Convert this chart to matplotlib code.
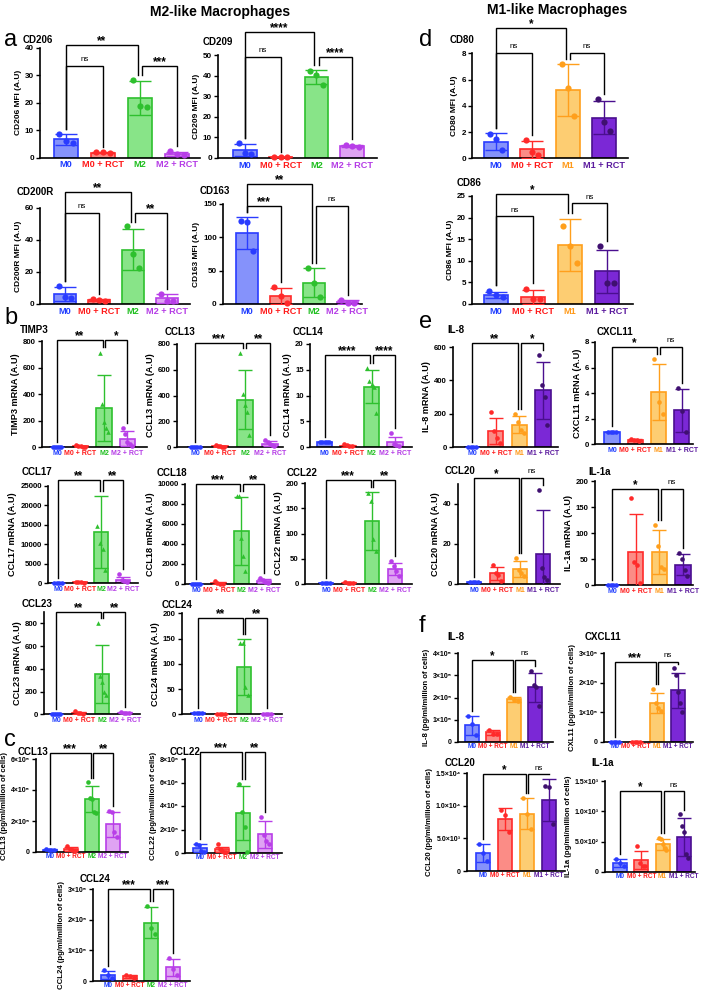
import numpy as np
import matplotlib.pyplot as plt

W, H = 703, 992
plt.rcParams['font.family'] = ['Liberation Sans', 'DejaVu Sans']
plt.rcParams['font.weight'] = 'bold'
plt.rcParams['axes.labelweight'] = 'bold'

fig = plt.figure(figsize=(W / 100, H / 100), dpi=100)

# groups and colours
M2G = ["M0", "M0 + RCT", "M2", "M2 + RCT"]
M1G = ["M0", "M0 + RCT", "M1", "M1 + RCT"]
EDGE = {'M0': '#2a3cff', 'M0 + RCT': '#ff2a2a', 'M2': '#2ec02e',
        'M2 + RCT': '#b83ee8', 'M1': '#ff9f1c', 'M1 + RCT': '#4a0f8f'}
FACE = {'M0': '#8592fb', 'M0 + RCT': '#fb8c86', 'M2': '#88e488',
        'M2 + RCT': '#dfa3f3', 'M1': '#fdcd72', 'M1 + RCT': '#7b28d6'}
LABC = {'M0': '#1f3dff', 'M0 + RCT': '#ff1a1a', 'M2': '#1fbf1f',
        'M2 + RCT': '#b53ce6', 'M1': '#ff9a1a', 'M1 + RCT': '#5b1a9e'}

# ---- a: M2 surface markers (MFI)
cd206_mean = [6.7, 1.8, 21.9, 1.5]
cd206_sd = [1.9, 0.2, 6.2, 0.7]
cd206_pts = [[8.6, 6.2, 5.3], [2.0, 1.9, 1.6], [28.3, 19.0, 18.4], [2.3, 1.2, 1.0]]

cd209_mean = [3.8, 0.4, 39.3, 6.0]
cd209_sd = [2.9, 0.1, 3.4, 0.5]
cd209_pts = [[7.2, 2.4, 1.8], [0.5, 0.4, 0.3], [42.0, 40.5, 35.5], [6.5, 6.0, 5.5]]

cd200r_mean = [6.4, 2.5, 34.0, 3.5]
cd200r_sd = [4.5, 0.5, 13.0, 2.7]
cd200r_pts = [[11.2, 4.5, 3.5], [3.0, 2.5, 2.0], [48.5, 31.0, 22.5], [6.5, 2.0, 2.0]]

cd163_mean = [107, 12.7, 31.8, 3.0]
cd163_sd = [24, 12, 21.8, 2.6]
cd163_pts = [[124, 123, 79], [25, 12, 1], [54, 31, 10.5], [6, 2, 1]]

# ---- b: M2 genes (mRNA)
timp3_mean = [1, 6, 296, 63]
timp3_sd = [0, 4, 248, 57]
timp3_pts = [[1, 1, 1, 1, 1], [12, 8, 5, 3, 2], [712, 325, 190, 143, 110], [140, 100, 40, 20, 10]]

ccl13_mean = [1, 6, 368, 27]
ccl13_sd = [0, 5, 232, 18]
ccl13_pts = [[1, 1, 1, 1, 1], [14, 8, 4, 2, 1], [730, 415, 330, 270, 95], [55, 35, 20, 15, 10]]

ccl14_mean = [1.0, 0.25, 11.7, 0.9]
ccl14_sd = [0, 0.2, 3.2, 1.0]
ccl14_pts = [[1, 1, 1, 1, 1], [0.5, 0.3, 0.2, 0.1], [15.4, 12.8, 12.3, 11.7, 6.6], [2.7, 0.6, 0.3, 0.1]]

ccl17_mean = [50, 180, 13200, 700]
ccl17_sd = [0, 90, 9300, 900]
ccl17_pts = [[50, 50, 50, 50], [300, 200, 150, 100], [14800, 10400, 8800, 3300], [2300, 800, 400, 200]]

ccl18_mean = [10, 120, 5300, 320]
ccl18_sd = [0, 120, 3400, 220]
ccl18_pts = [[10, 10, 10, 10, 10], [300, 150, 50, 20], [8800, 8800, 4600, 2800, 1300], [650, 450, 250, 100]]

ccl22_mean = [2, 2, 125, 30]
ccl22_sd = [0, 1, 58, 12]
ccl22_pts = [[2, 2, 2, 2], [3, 2, 2, 1], [180, 165, 90, 65], [45, 35, 25, 15]]

ccl23_mean = [5, 14, 358, 13]
ccl23_sd = [0, 8, 255, 5]
ccl23_pts = [[5, 5, 5, 5, 5], [25, 15, 10, 5], [800, 340, 280, 200, 170], [20, 15, 10, 8]]

ccl24_mean = [2, 1, 94, 1]
ccl24_sd = [0.5, 0.5, 56, 0.5]
ccl24_pts = [[3, 2, 2, 2], [1, 1, 1, 1], [142, 142, 55, 38], [1, 1, 1, 1]]

# ---- c: M2 secreted (pg/ml/million of cells)
ccl13p_mean = [1.5e4, 2.0e4, 3.4e5, 1.8e5]
ccl13p_sd = [5e3, 1.5e4, 8.5e4, 8e4]
ccl13p_pts = [[2e4, 1.5e4, 1.5e4, 1e4], [4e4, 2e4, 1e4, 5e3], [4.5e5, 3.5e5, 3.4e5, 2.6e5, 2.5e5],
              [2.65e5, 2.55e5, 1.3e5, 1.0e5]]

ccl22p_mean = [4.5e5, 3.0e5, 3.4e6, 1.6e6]
ccl22p_sd = [3.5e5, 2.5e5, 2.3e6, 1.15e6]
ccl22p_pts = [[8e5, 7e5, 2e5, 1e5], [7.5e5, 3e5, 2e5, 1e5, 1e5], [5.9e6, 3.5e6, 2.2e6, 1e5],
              [3.05e6, 1.5e6, 1.0e6, 0.8e6]]

ccl24p_mean = [2.0e4, 1.5e4, 1.9e5, 4.5e4]
ccl24p_sd = [1.2e4, 5e3, 5e4, 2.8e4]
ccl24p_pts = [[3.5e4, 2e4, 1e4], [2e4, 1.5e4, 1e4], [2.45e5, 1.72e5, 1.54e5], [7.5e4, 4e4, 2e4]]

# ---- d: M1 surface markers (MFI)
cd80_mean = [1.25, 0.7, 5.2, 3.1]
cd80_sd = [0.65, 0.65, 2.0, 1.25]
cd80_pts = [[1.85, 1.5, 0.6], [1.4, 0.5, 0.25], [7.2, 5.35, 3.2], [4.5, 2.8, 2.1]]

cd86_mean = [2.1, 1.7, 13.7, 7.6]
cd86_sd = [0.7, 1.6, 6.0, 5.0]
cd86_pts = [[3.1, 2.1, 1.7], [3.5, 1.1, 1.1], [18.1, 13.5, 9.4], [13.4, 4.9, 4.9]]

# ---- e: M1 genes (mRNA)
il8_mean = [0, 96, 135, 341]
il8_sd = [0, 80, 50, 170]
il8_pts = [[0, 0, 0, 0], [210, 95, 55, 25], [200, 150, 105, 85], [555, 375, 300, 135]]

cxcl11_mean = [1.0, 0.35, 4.1, 2.65]
cxcl11_sd = [0, 0.1, 2.2, 1.7]
cxcl11_pts = [[1, 1, 1, 1], [0.45, 0.35, 0.3, 0.25], [6.65, 3.3, 2.4], [4.4, 2.6, 0.95]]

ccl20_mean = [1.0, 5.3, 7.3, 15.2]
ccl20_sd = [0, 3.2, 4.0, 22.0]
ccl20_pts = [[1, 1, 1, 1], [9.5, 5.5, 4.5, 1.7], [12.8, 7.0, 5.5, 4.0], [47, 8, 3.6, 2]]

il1a_mean = [0, 63, 64, 39]
il1a_sd = [0, 73, 42, 20]
il1a_pts = [[0, 0, 0, 0], [168, 45, 38, 3], [115, 75, 35, 30], [61, 50, 28, 17]]

# ---- f: M1 secreted (pg/ml/million of cells)
il8p_mean = [7.6e4, 4.3e4, 1.92e5, 2.45e5]
il8p_sd = [4.3e4, 1.1e4, 1.2e4, 6.5e4]
il8p_pts = [[1.15e5, 8e4, 3.2e4], [5.6e4, 3.8e4, 3.5e4], [2.03e5, 1.88e5, 1.85e5],
            [3.2e5, 2.55e5, 2.45e5, 1.6e5]]

cxcl11p_mean = [1e3, 1e3, 1.32e5, 1.75e5]
cxcl11p_sd = [0, 0, 3.4e4, 5.9e4]
cxcl11p_pts = [[1e3, 1e3, 1e3, 1e3], [1e3, 1e3, 1e3, 1e3], [1.8e5, 1.3e5, 1.13e5, 1.05e5],
               [2.48e5, 2.25e5, 1.69e5, 1.3e5, 1.02e5]]

ccl20p_mean = [2.8e3, 7.9e3, 8.8e3, 1.09e4]
ccl20p_sd = [1.4e3, 1.7e3, 2.4e3, 3.2e3]
ccl20p_pts = [[4.2e3, 2.7e3, 1.5e3], [9.4e3, 8.5e3, 6.0e3], [1.12e4, 8.7e3, 6.4e3], [1.3e4, 1.28e4, 7.2e3]]

il1ap_mean = [150, 200, 460, 580]
il1ap_sd = [60, 150, 90, 310]
il1ap_pts = [[220, 150, 100], [430, 150, 100, 100], [560, 540, 460, 400, 370], [950, 760, 660, 300, 230]]


def sci(v, e, dec=False):
    sup = str.maketrans('0123456789', '⁰¹²³⁴⁵⁶⁷⁸⁹')
    m = f"{v:.1f}" if dec else f"{v:g}"
    return f"{m}×10{str(e).translate(sup)}"


# style per block: tick font, x label font, ylabel font, marker size, cap
STY = {
    'a': dict(tfs=5.8, xfs=6.6, yfs=6.0, ms=20, cap=8, pfs=7, xpad=2),
    'b': dict(tfs=5.6, xfs=5.0, yfs=6.6, ms=11, cap=5, pfs=7, xpad=2),
    'c': dict(tfs=5.0, xfs=4.7, yfs=5.6, ms=11, cap=5, pfs=7, xpad=1),
}


def panel(title, tpos, ylabel, box, c0, step, ymax, yticks, ylabels, groups,
          mean, sd, pts, brackets, sty, tri=False):
    L, R, T, B = box
    s = STY[sty]
    ax = fig.add_axes([L / W, 1 - B / H, (R - L) / W, (B - T) / H])
    tops = []
    for k, g in enumerate(groups):
        ax.bar(k, mean[k], width=0.65, color=FACE[g], edgecolor=EDGE[g], lw=1.2, zorder=2)
        ax.errorbar(k, mean[k], yerr=sd[k], fmt='none', ecolor=EDGE[g], elinewidth=1,
                    capsize=s['cap'], capthick=1, zorder=3)
        p = pts[k]
        off = np.linspace(-0.18, 0.18, len(p)) if len(p) > 1 else np.zeros(1)
        mk = '^' if (tri and g == 'M2') else 'o'
        pc = '#3f1070' if g == 'M1 + RCT' else EDGE[g]
        ax.scatter(k + off, p, s=s['ms'], marker=mk, color=pc, zorder=4, clip_on=False, lw=0)
        tops.append(max(max(p), mean[k] + sd[k]))
    ax.set_xlim((L - c0) / step, (R - c0) / step)
    ax.set_ylim(0, ymax)
    ax.set_yticks(yticks)
    ax.set_yticklabels(ylabels)
    ax.set_xticks(range(4))
    ax.set_xticklabels(groups)
    for lab, g in zip(ax.get_xticklabels(), groups):
        lab.set_color(LABC[g])
        lab.set_fontsize(s['xfs'])
        lab.set_fontweight('bold')
    for sp in ('top', 'right'):
        ax.spines[sp].set_visible(False)
    for sp in ('left', 'bottom'):
        ax.spines[sp].set_linewidth(1.2)
    ax.tick_params(axis='x', length=0, pad=s['xpad'])
    ax.tick_params(axis='y', length=3, width=1, pad=1.5, labelsize=s['tfs'])
    ax.set_ylabel(ylabel, fontsize=s['yfs'], fontweight='bold', labelpad=2)
    fig.text(tpos[0] / W, 1 - tpos[1] / H, title, fontsize=s['pfs'], fontweight='bold',
             ha='left', va='center')
    pad = 0.05 * ymax
    for i, j, lev, lab in brackets:
        xi = i + (0.06 if i == 2 else 0)
        xj = j - (0.06 if j == 2 else 0)
        ax.plot([xi, xi, xj, xj], [tops[i] + pad, lev, lev, tops[j] + pad],
                color='k', lw=1, clip_on=False, zorder=5, solid_joinstyle='miter')
        if lab == 'ns':
            ax.annotate(lab, ((xi + xj) / 2, lev), xytext=(0, 2), textcoords='offset points',
                        ha='center', va='bottom', fontsize=5.8, fontweight='normal',
                        annotation_clip=False)
        else:
            ax.annotate(lab, ((xi + xj) / 2, lev), xytext=(0, -1.5), textcoords='offset points',
                        ha='center', va='bottom', fontsize=8.5, fontweight='bold',
                        annotation_clip=False)
    return ax


# headers and panel letters
fig.text(220 / W, 1 - 12 / H, "M2-like Macrophages", fontsize=10, fontweight='bold', ha='center', va='center')
fig.text(557 / W, 1 - 10 / H, "M1-like Macrophages", fontsize=10, fontweight='bold', ha='center', va='center')
for letter, (lx, ly) in {'a': (4, 40), 'b': (4, 318), 'c': (4, 740),
                         'd': (419, 40), 'e': (419, 322), 'f': (419, 626)}.items():
    fig.text(lx / W, 1 - ly / H, letter, fontsize=17, fontweight='normal', ha='left', va='center')

# a
panel("CD206", (23, 40), "CD206 MFI (A.U)", (40, 200, 48, 157.7), 66, 37, 40,
      [0, 10, 20, 30, 40], ['0', '10', '20', '30', '40'], M2G, cd206_mean, cd206_sd, cd206_pts,
      [(0, 2, 41, '**'), (0, 1, 33.5, 'ns'), (2, 3, 33.5, '***')], 'a')
panel("CD209", (203, 42), "CD209 MFI (A.U)", (218, 377, 55, 158), 245, 35.7, 50,
      [0, 10, 20, 30, 40, 50], ['0', '10', '20', '30', '40', '50'], M2G, cd209_mean, cd209_sd, cd209_pts,
      [(0, 2, 61, '****'), (0, 1, 49, 'ns'), (2, 3, 49, '****')], 'a')
panel("CD200R", (17, 192), "CD200R MFI (A.U)", (40, 190, 208, 304), 65, 34, 60,
      [0, 20, 40, 60], ['0', '20', '40', '60'], M2G, cd200r_mean, cd200r_sd, cd200r_pts,
      [(0, 2, 70, '**'), (0, 1, 57, 'ns'), (2, 3, 57, '**')], 'a')
panel("CD163", (200, 191), "CD163 MFI (A.U)", (223, 362, 204, 304), 247, 33.5, 150,
      [0, 50, 100, 150], ['0', '50', '100', '150'], M2G, cd163_mean, cd163_sd, cd163_pts,
      [(0, 2, 180, '**'), (0, 1, 147, '***'), (2, 3, 147, 'ns')], 'a')

# b
t800 = [0, 200, 400, 600, 800]
panel("TIMP3", (20, 330), "TIMP3 mRNA (A.U)", (42, 147, 341, 447), 57, 23.5, 800,
      t800, [str(v) for v in t800], M2G, timp3_mean, timp3_sd, timp3_pts,
      [(0, 2, 810, '**'), (2, 3, 810, '*')], 'b', tri=True)
panel("CCL13", (165, 332), "CCL13 mRNA (A.U)", (177, 283, 344, 447), 195, 25, 800,
      t800, [str(v) for v in t800], M2G, ccl13_mean, ccl13_sd, ccl13_pts,
      [(0, 2, 810, '***'), (2, 3, 810, '**')], 'b', tri=True)
panel("CCL14", (293, 332), "CCL14 mRNA (A.U)", (310, 412, 344, 447), 324.5, 23.5, 20,
      [0, 5, 10, 15, 20], ['0', '5', '10', '15', '20'], M2G, ccl14_mean, ccl14_sd, ccl14_pts,
      [(0, 2, 17.8, '****'), (2, 3, 17.8, '****')], 'b', tri=True)
t25 = [0, 5000, 10000, 15000, 20000, 25000]
panel("CCL17", (22, 472), "CCL17 mRNA (A.U)", (48, 138, 486, 583), 58, 21.7, 25000,
      t25, [str(v) for v in t25], M2G, ccl17_mean, ccl17_sd, ccl17_pts,
      [(0, 2, 26500, '**'), (2, 3, 26500, '**')], 'b', tri=True)
t10 = [0, 2000, 4000, 6000, 8000, 10000]
panel("CCL18", (157, 473), "CCL18 mRNA (A.U)", (185, 280, 484, 584), 196, 22.7, 10000,
      t10, [str(v) for v in t10], M2G, ccl18_mean, ccl18_sd, ccl18_pts,
      [(0, 2, 10000, '***'), (2, 3, 10000, '**')], 'b', tri=True)
t200 = [0, 50, 100, 150, 200]
panel("CCL22", (287, 473), "CCL22 mRNA (A.U)", (305, 412, 483, 584), 326, 23, 200,
      t200, [str(v) for v in t200], M2G, ccl22_mean, ccl22_sd, ccl22_pts,
      [(0, 2, 205, '***'), (2, 3, 205, '**')], 'b', tri=True)
panel("CCL23", (22, 604), "CCL23 mRNA (A.U)", (44, 140, 612, 714.3), 56, 23, 900,
      t800, [str(v) for v in t800], M2G, ccl23_mean, ccl23_sd, ccl23_pts,
      [(0, 2, 900, '**'), (2, 3, 900, '**')], 'b', tri=True)
panel("CCL24", (162, 605), "CCL24 mRNA (A.U)", (182, 282, 613.3, 714.3), 198, 23, 200,
      t200, [str(v) for v in t200], M2G, ccl24_mean, ccl24_sd, ccl24_pts,
      [(0, 2, 190, '**'), (2, 3, 190, '**')], 'b', tri=True)

# c
panel("CCL13", (18, 752), "CCL13 (pg/ml/million of cells)", (36, 128, 759, 852), 50, 21, 6e5,
      [0, 2e5, 4e5, 6e5], ['0', sci(2, 5), sci(4, 5), sci(6, 5)], M2G, ccl13p_mean, ccl13p_sd, ccl13p_pts,
      [(0, 2, 6.4e5, '***'), (2, 3, 6.4e5, '**')], 'c')
panel("CCL22", (170, 752), "CCL22 (pg/ml/million of cells)", (185, 282, 759, 853), 200, 21.7, 8e6,
      [0, 2e6, 4e6, 6e6, 8e6], ['0', sci(2, 6), sci(4, 6), sci(6, 6), sci(8, 6)], M2G,
      ccl22p_mean, ccl22p_sd, ccl22p_pts,
      [(0, 2, 8.6e6, '***'), (2, 3, 8.6e6, '**')], 'c')
panel("CCL24", (80, 879), "CCL24 (pg/ml/million of cells)", (93, 190, 889, 981), 108, 21.7, 3e5,
      [0, 1e5, 2e5, 3e5], ['0', sci(1, 5), sci(2, 5), sci(3, 5)], M2G, ccl24p_mean, ccl24p_sd, ccl24p_pts,
      [(0, 2, 3e5, '***'), (2, 3, 3e5, '***')], 'c')

# d
panel("CD80", (450, 40), "CD80 MFI (A.U)", (472, 628, 53.3, 158.3), 496, 36, 8,
      [0, 2, 4, 6, 8], ['0', '2', '4', '6', '8'], M1G, cd80_mean, cd80_sd, cd80_pts,
      [(0, 2, 9.9, '*'), (0, 1, 8.05, 'ns'), (2, 3, 8.05, 'ns')], 'a')
panel("CD86", (457, 183), "CD86 MFI (A.U)", (472, 633, 196, 304), 496, 37, 25,
      [0, 5, 10, 15, 20, 25], ['0', '5', '10', '15', '20', '25'], M1G, cd86_mean, cd86_sd, cd86_pts,
      [(0, 2, 25.5, '*'), (0, 1, 20.3, 'ns'), (2, 3, 23.3, 'ns')], 'a')

# e
panel("IL-8", (447, 330), "IL-8 mRNA (A.U)", (453, 558, 347, 447), 472, 23.7, 600,
      [0, 200, 400, 600], ['0', '200', '400', '600'], M1G, il8_mean, il8_sd, il8_pts,
      [(0, 2, 625, '**'), (2, 3, 625, '*')], 'b')
panel("CXCL11", (597, 332), "CXCL11 mRNA (A.U)", (595, 693, 342, 444.3), 612, 23.3, 8,
      [0, 2, 4, 6, 8], ['0', '2', '4', '6', '8'], M1G, cxcl11_mean, cxcl11_sd, cxcl11_pts,
      [(0, 2, 7.6, '*'), (2, 3, 7.6, 'ns')], 'b')
panel("CCL20", (445, 471), "CCL20 mRNA (A.U)", (458, 560, 484, 584), 474, 23, 50,
      [0, 20, 40], ['0', '20', '40'], M1G, ccl20_mean, ccl20_sd, ccl20_pts,
      [(0, 2, 53, '*'), (2, 3, 53, 'ns')], 'b')
panel("IL-1a", (588, 472), "IL-1a mRNA (A.U)", (595, 693, 481, 585), 612, 23.7, 200,
      [0, 50, 100, 150, 200], ['0', '50', '100', '150', '200'], M1G, il1a_mean, il1a_sd, il1a_pts,
      [(0, 2, 185, '*'), (2, 3, 185, 'ns')], 'b')

# f
panel("IL-8", (447, 637), "IL-8 (pg/ml/million of cells)", (458, 553, 653, 742), 472, 21, 4e5,
      [0, 1e5, 2e5, 3e5, 4e5], ['0', sci(1, 5), sci(2, 5), sci(3, 5), sci(4, 5)], M1G,
      il8p_mean, il8p_sd, il8p_pts, [(0, 2, 3.7e5, '*'), (2, 3, 3.7e5, 'ns')], 'c')
panel("CXCL11", (585, 637), "CXL11 (pg/ml/million of cells)", (604, 693, 653, 742), 615, 21, 3e5,
      [0, 1e5, 2e5, 3e5], ['0', sci(1, 5), sci(2, 5), sci(3, 5)], M1G,
      cxcl11p_mean, cxcl11p_sd, cxcl11p_pts, [(0, 2, 2.7e5, '***'), (2, 3, 2.7e5, 'ns')], 'c')
panel("CCL20", (445, 763), "CCL20 (pg/ml/million of cells)", (467, 565, 773, 871), 483, 22, 1.5e4,
      [0, 5e3, 1e4, 1.5e4], ['0', sci(5, 3, True), sci(1, 4, True), sci(1.5, 4, True)], M1G,
      ccl20p_mean, ccl20p_sd, ccl20p_pts, [(0, 2, 1.48e4, '*'), (2, 3, 1.48e4, 'ns')], 'c')
panel("IL-1a", (591, 763), "IL-1a (pg/ml/million of cells)", (605, 695, 781, 872), 620, 21.3, 1.5e3,
      [0, 5e2, 1e3, 1.5e3], ['0', sci(5, 2, True), sci(1, 3, True), sci(1.5, 3, True)], M1G,
      il1ap_mean, il1ap_sd, il1ap_pts, [(0, 2, 1.33e3, '*'), (2, 3, 1.33e3, 'ns')], 'c')

fig.savefig("out.png", dpi=100)
